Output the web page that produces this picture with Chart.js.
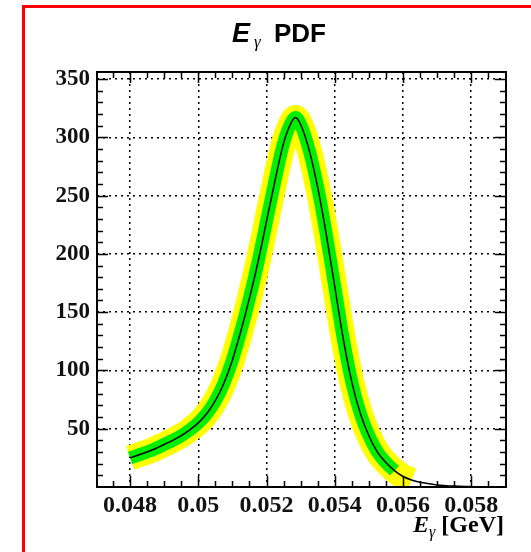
<!DOCTYPE html>
<html>
<head>
<meta charset="utf-8">
<script src="https://cdn.jsdelivr.net/npm/chart.js@4/dist/chart.umd.min.js"></script>
<style>
  html, body { margin: 0; padding: 0; background: #fff; overflow: hidden; }
  #wrap { position: relative; width: 531px; height: 552px; }
</style>
</head>
<body>
<div id="wrap"><canvas id="chart" width="531" height="552"></canvas></div>
<script>
// E_gamma PDF, central curve
const energy = [
  0.04800, 0.04825, 0.04850, 0.04875, 0.04900, 0.04925, 0.04950, 0.04975,
  0.05000, 0.05025, 0.05050, 0.05075, 0.05100, 0.05125, 0.05150, 0.05175,
  0.05200, 0.05225, 0.05250, 0.05275, 0.05285, 0.05300, 0.05325, 0.05350,
  0.05375, 0.05400, 0.05425, 0.05450, 0.05475, 0.05500, 0.05525, 0.05550,
  0.05575, 0.05600, 0.05625, 0.05650, 0.05700, 0.05750, 0.05800
];
const pdf = [
  25, 27.5, 30, 33, 36.5, 40, 44, 49,
  55, 63, 74, 89, 109, 134, 162, 193,
  228, 263, 295, 314, 317, 311, 289, 257,
  217, 172, 127, 90, 63, 44, 30, 21,
  14, 9, 6, 4, 1.8, 0.8, 0.4
];
const greenEnd = 0.05575;  // last energy the 1 sigma band reaches
const yellowEnd = 0.05625; // last energy the 2 sigma band reaches

const xTicks = [0.048, 0.050, 0.052, 0.054, 0.056, 0.058];
const xTickLabels = ['0.048', '0.05', '0.052', '0.054', '0.056', '0.058'];
const yTicks = [50, 100, 150, 200, 250, 300, 350];

const pts = energy.map((e, i) => ({ x: e, y: pdf[i] }));
const upTo = lim => pts.filter(p => p.x <= lim + 1e-9);

// frame, inward ticks on all four sides, titles and the red outline
const decor = {
  id: 'decor',
  afterDraw(chart) {
    const { ctx, chartArea: a, scales: { x, y } } = chart;
    ctx.save();
    ctx.strokeStyle = '#000';
    ctx.lineWidth = 2;
    ctx.strokeRect(a.left, a.top, a.right - a.left, a.bottom - a.top);

    ctx.lineWidth = 1.5;
    ctx.beginPath();
    for (let v = 10; v <= 350; v += 10) {
      const py = Math.round(y.getPixelForValue(v)) + 0.5;
      const len = v % 50 === 0 ? 11 : 6;
      ctx.moveTo(a.left, py); ctx.lineTo(a.left + len, py);
      ctx.moveTo(a.right, py); ctx.lineTo(a.right - len, py);
    }
    for (let k = 0; k <= 22; k++) {
      const v = 0.0475 + k * 0.0005;
      const px = Math.round(x.getPixelForValue(v)) + 0.5;
      const len = k % 4 === 1 ? 11 : 6;
      ctx.moveTo(px, a.bottom); ctx.lineTo(px, a.bottom - len);
      ctx.moveTo(px, a.top); ctx.lineTo(px, a.top + len);
    }
    ctx.stroke();

    // title
    ctx.fillStyle = '#000';
    ctx.textBaseline = 'alphabetic';
    ctx.textAlign = 'left';
    ctx.font = 'italic bold 27px "Liberation Sans"';
    ctx.fillText('E', 232, 42);
    ctx.font = 'italic 17px "Liberation Serif"';
    ctx.fillText('\u03b3', 254, 47);
    ctx.font = 'bold 26px "Liberation Sans"';
    ctx.fillText('PDF', 274, 42);

    // x axis title, right aligned to the frame
    const parts = [
      { t: 'E', f: 'italic bold 24px "Liberation Serif"', dy: 0 },
      { t: '\u03b3', f: 'italic 16px "Liberation Serif"', dy: 5 },
      { t: ' [GeV]', f: 'bold 24px "Liberation Serif"', dy: 0 }
    ];
    let w = 0;
    parts.forEach(p => { ctx.font = p.f; p.w = ctx.measureText(p.t).width; w += p.w; });
    let cx = a.right - 2 - w;
    parts.forEach(p => { ctx.font = p.f; ctx.fillText(p.t, cx, 532 + p.dy); cx += p.w; });

    ctx.strokeStyle = '#ff0000';
    ctx.lineWidth = 3;
    ctx.strokeRect(23.5, 6.5, 700, 700);
    ctx.restore();
  }
};

new Chart(document.getElementById('chart'), {
  type: 'scatter',
  data: {
    datasets: [
      {
        data: pts, showLine: true, borderColor: '#000', borderWidth: 1.5,
        pointRadius: 0, cubicInterpolationMode: 'monotone', order: 0, clip: 0
      },
      {
        data: upTo(greenEnd), showLine: true, borderColor: '#00ee00', borderWidth: 13,
        pointRadius: 0, cubicInterpolationMode: 'monotone', order: 1, clip: 0,
        borderJoinStyle: 'round'
      },
      {
        data: upTo(yellowEnd), showLine: true, borderColor: '#ffff00', borderWidth: 25,
        pointRadius: 0, cubicInterpolationMode: 'monotone', order: 2, clip: 0,
        borderJoinStyle: 'round'
      }
    ]
  },
  options: {
    responsive: false,
    animation: false,
    layout: { padding: { left: 0, right: 25, top: 72, bottom: 0 } },
    plugins: { legend: { display: false }, tooltip: { enabled: false } },
    scales: {
      x: {
        type: 'linear', min: 0.04703, max: 0.05902,
        afterBuildTicks: s => { s.ticks = xTicks.map(v => ({ value: v })); },
        afterFit: s => { s.height = 65; },
        grid: { color: '#000', lineWidth: 1.5, drawTicks: false },
        border: { display: false, dash: [2, 4] },
        ticks: {
          color: '#111', font: { family: 'Liberation Serif', size: 24, weight: 'bold' },
          padding: 4, maxRotation: 0,
          callback: v => xTickLabels[xTicks.indexOf(v)]
        }
      },
      y: {
        type: 'linear', min: 0, max: 356,
        afterBuildTicks: s => { s.ticks = yTicks.map(v => ({ value: v })); },
        afterFit: s => { s.width = 97; },
        grid: { color: '#000', lineWidth: 1.5, drawTicks: false },
        border: { display: false, dash: [2, 4] },
        ticks: {
          color: '#111', font: { family: 'Liberation Serif', size: 23, weight: 'bold' },
          padding: 7
        }
      }
    }
  },
  plugins: [decor]
});
</script>
</body>
</html>
